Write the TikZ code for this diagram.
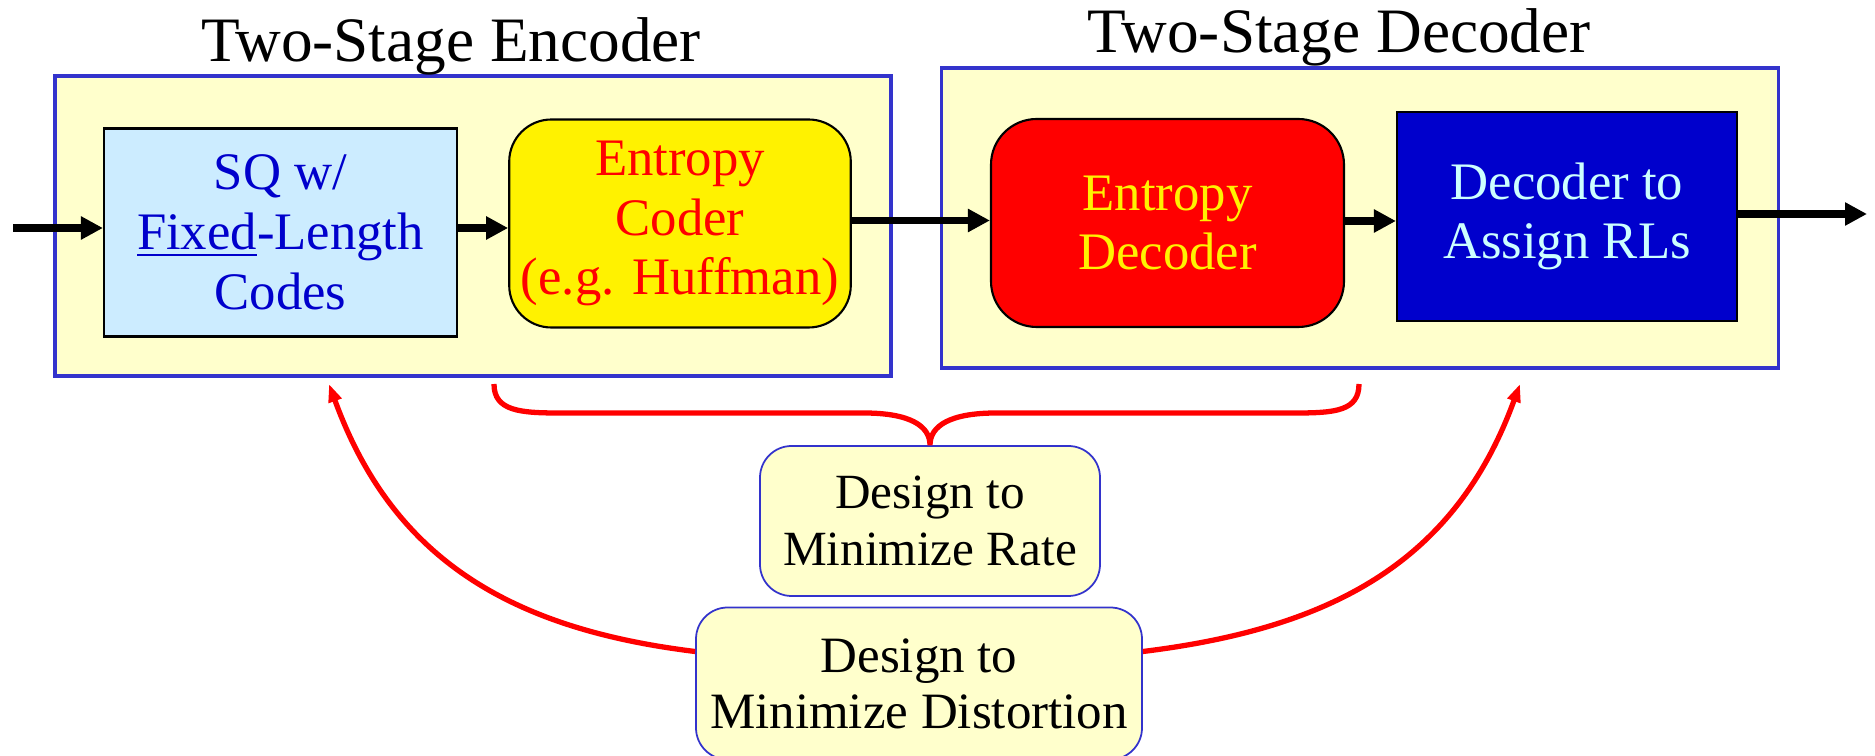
\documentclass[tikz,border=0pt]{standalone}
\usepackage{fontspec}
\setmainfont{Liberation Serif}
\usetikzlibrary{positioning,arrows.meta}

\definecolor{paleyel}{HTML}{FFFFCC}
\definecolor{frameblue}{HTML}{3333CC}
\definecolor{skyfill}{HTML}{CCECFF}
\definecolor{deepblue}{HTML}{0000CC}
\definecolor{icecyan}{HTML}{CCFFFF}

\begin{document}
\begin{tikzpicture}[
  stage/.style={rectangle, draw=frameblue, line width=1pt, fill=paleyel, minimum width=8.36cm, minimum height=3cm},
  title/.style={font=\fontsize{18}{20}\selectfont, anchor=base},
  block/.style={rectangle, draw, line width=0.6pt, minimum height=2.08cm, align=center, font=\fontsize{15}{17}\selectfont},
  goal/.style={rectangle, rounded corners=9pt, draw=frameblue, line width=0.5pt, fill=paleyel, align=center, minimum height=1.5cm},
  flow/.style={-{Triangle[length=0.22cm,width=0.22cm]}, line width=2.2pt},
  aim/.style={-{Triangle[length=0.18cm,width=0.13cm]}, red, line width=1.5pt}
]
\useasboundingbox (0,0) rectangle (18.75,7.56);

% the two stages
\node[stage] (enc) at (4.73,5.30) {};
\node[title] at (4.51,6.94) {Two-Stage Encoder};
\node[stage, minimum width=8.37cm] (dec) at (13.60,5.38) {};
\node[title] at (13.39,7.03) {Two-Stage Decoder};

\node[block, fill=skyfill, text=deepblue, minimum width=3.53cm] (sq) at (2.805,5.235) {SQ w/\\\underline{Fixed}-Length\\Codes};
\node[block, rounded corners=12pt, fill=yellow, text=red, minimum width=3.38cm] (coder) at (6.80,5.325) {Entropy\\Coder\\(e.g. Huffman)};
\node[block, rounded corners=13pt, fill=red, text=yellow, minimum width=3.53cm] (edec) at (11.675,5.33) {Entropy\\Decoder};
\node[block, fill=deepblue, text=icecyan, minimum width=3.40cm, minimum height=2.09cm] (assign) at (15.67,5.395) {Decoder to\\Assign RLs};

% goals
\node[goal, minimum width=3.40cm, font=\fontsize{14}{16}\selectfont] (rate) at (9.30,2.35) {Design to\\Minimize Rate};
\node[goal, minimum width=4.46cm, minimum height=1.52cm, font=\fontsize{14.5}{16}\selectfont] (dist) at (9.19,0.725) {Design to\\Minimize Distortion};

\coordinate (src) at (0.13,5.28);
\coordinate (sink) at (18.67,5.42);
\coordinate (bl) at (4.94,3.72);
\coordinate (br) at (13.59,3.72);
\coordinate (lt) at (3.29,3.72);
\coordinate (rt) at (15.20,3.72);

\draw[flow] (src) -- (src -| sq.west);
\draw[flow] (sq.east |- src) -- (coder.west |- src);
\draw[flow] ([yshift=0.3mm]coder.east) -- ([yshift=0.3mm]coder.east -| edec.west);
\draw[flow] ([yshift=0.2mm]edec.east) -- ([yshift=0.2mm]edec.east -| assign.west);
\draw[flow] (assign.east |- sink) -- (sink);

% brace over the entropy stages
\draw[red, line width=1.5pt] (bl) .. controls (4.94,3.45) and (5.2,3.43) .. (5.6,3.43) -- (8.64,3.43)
  .. controls (9.1,3.43) and (9.30,3.3) .. (rate.north)
  .. controls (9.30,3.3) and (9.5,3.43) .. (9.96,3.43) -- (12.95,3.43)
  .. controls (13.35,3.43) and (13.59,3.45) .. (br);

\draw[aim] ([yshift=3.2mm]dist.west) to[out=173, in=-70, looseness=1.05] (lt);
\draw[aim] ([yshift=3.2mm]dist.east) to[out=7, in=-110, looseness=1.05] (rt);
\end{tikzpicture}
\end{document}
